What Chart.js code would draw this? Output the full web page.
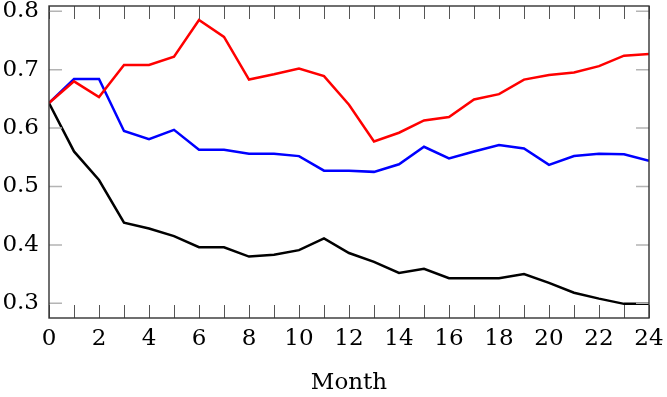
<!DOCTYPE html>
<html lang="en">
<head>
    <meta charset="UTF-8">
    <title>Month chart</title>
    <script src="https://cdn.jsdelivr.net/npm/chart.js"></script>
    <style>
        html, body { margin: 0; padding: 0; background: #fff; }
        #chart { display: block; }
    </style>
</head>
<body>
    <canvas id="chart" width="667" height="397"></canvas>
    <script>
        // Datos
        var months = [0, 1, 2, 3, 4, 5, 6, 7, 8, 9, 10, 11, 12, 13, 14, 15, 16, 17, 18, 19, 20, 21, 22, 23, 24];
        var redValues = [0.643, 0.680, 0.653, 0.708, 0.708, 0.722, 0.785, 0.756, 0.683, 0.692, 0.702, 0.689, 0.640,
            0.577, 0.592, 0.613, 0.619, 0.649, 0.658, 0.683, 0.691, 0.695, 0.706, 0.724, 0.727];
        var blueValues = [0.643, 0.684, 0.684, 0.595, 0.581, 0.597, 0.563, 0.563, 0.556, 0.556, 0.552, 0.527, 0.527,
            0.525, 0.538, 0.568, 0.548, 0.560, 0.571, 0.565, 0.537, 0.552, 0.556, 0.555, 0.544];
        var blackValues = [0.643, 0.560, 0.511, 0.438, 0.428, 0.415, 0.396, 0.396, 0.380, 0.383, 0.391, 0.411, 0.386,
            0.371, 0.352, 0.359, 0.343, 0.343, 0.343, 0.350, 0.335, 0.318, 0.308, 0.299, 0.299];
        var xTickLabels = [0, 2, 4, 6, 8, 10, 12, 14, 16, 18, 20, 22, 24];
        var yTickLabels = [0.3, 0.4, 0.5, 0.6, 0.7, 0.8];

        function toPoints(values) {
            return values.map(function (v, i) { return { x: months[i], y: v }; });
        }

        // Marcas hacia dentro y marco del area de dibujo
        var framePlugin = {
            id: 'frame',
            afterDatasetsDraw: function (chart) {
                var ctx = chart.ctx;
                var a = chart.chartArea;
                var xs = chart.scales.x;
                var ys = chart.scales.y;
                ctx.save();
                ctx.lineWidth = 1;
                ctx.strokeStyle = '#555';
                months.forEach(function (m) {
                    var px = Math.round(xs.getPixelForValue(m)) + 0.5;
                    ctx.beginPath();
                    ctx.moveTo(px, a.bottom);
                    ctx.lineTo(px, a.bottom - 13);
                    ctx.moveTo(px, a.top);
                    ctx.lineTo(px, a.top + 13);
                    ctx.stroke();
                });
                ctx.lineWidth = 1.5;
                ctx.strokeStyle = '#b4b4b4';
                yTickLabels.forEach(function (v) {
                    var py = ys.getPixelForValue(v);
                    ctx.beginPath();
                    ctx.moveTo(a.left, py);
                    ctx.lineTo(a.left + 13, py);
                    ctx.moveTo(a.right, py);
                    ctx.lineTo(a.right - 13, py);
                    ctx.stroke();
                });
                ctx.lineWidth = 1.4;
                ctx.strokeStyle = '#333';
                ctx.strokeRect(a.left, a.top, a.right - a.left, a.bottom - a.top);
                ctx.restore();
            }
        };

        var serif = '"DejaVu Serif", "Liberation Serif", serif';

        // Quita el relleno automatico que Chart.js deja para las etiquetas extremas
        function noEdgePadding(scale) {
            scale.paddingTop = 0;
            scale.paddingBottom = 0;
            scale.paddingLeft = 0;
            scale.paddingRight = 0;
        }

        var chart = new Chart(document.getElementById('chart').getContext('2d'), {
            type: 'line',
            data: {
                datasets: [
                    { data: toPoints(redValues), borderColor: '#ff0000', borderWidth: 2.5, pointRadius: 0, tension: 0, fill: false },
                    { data: toPoints(blueValues), borderColor: '#0000ff', borderWidth: 2.5, pointRadius: 0, tension: 0, fill: false },
                    { data: toPoints(blackValues), borderColor: '#000000', borderWidth: 2.5, pointRadius: 0, tension: 0, fill: false }
                ]
            },
            options: {
                responsive: false,
                animation: false,
                layout: { padding: { top: 6, right: 18, left: 0, bottom: 0 } },
                plugins: { legend: { display: false }, tooltip: { enabled: false } },
                scales: {
                    x: {
                        type: 'linear',
                        min: 0,
                        max: 24,
                        grid: { display: false, drawTicks: false },
                        border: { display: false },
                        afterBuildTicks: function (scale) {
                            scale.ticks = xTickLabels.map(function (v) { return { value: v }; });
                        },
                        afterFit: function (scale) { scale.height = 79; noEdgePadding(scale); },
                        ticks: {
                            autoSkip: false,
                            maxRotation: 0,
                            padding: 7,
                            color: '#000',
                            font: { family: serif, size: 23 }
                        },
                        title: {
                            display: true,
                            text: 'Month',
                            color: '#000',
                            padding: { top: 21, bottom: 0 },
                            font: { family: serif, size: 23 }
                        }
                    },
                    y: {
                        min: 0.2748,
                        max: 0.809,
                        grid: { display: false, drawTicks: false },
                        border: { display: false },
                        afterBuildTicks: function (scale) {
                            scale.ticks = yTickLabels.map(function (v) { return { value: v }; });
                        },
                        afterFit: function (scale) { scale.width = 49; noEdgePadding(scale); },
                        ticks: {
                            padding: 10,
                            color: '#000',
                            font: { family: serif, size: 23 },
                            callback: function (v) { return v.toFixed(1); }
                        }
                    }
                }
            },
            plugins: [framePlugin]
        });
    </script>
</body>
</html>
